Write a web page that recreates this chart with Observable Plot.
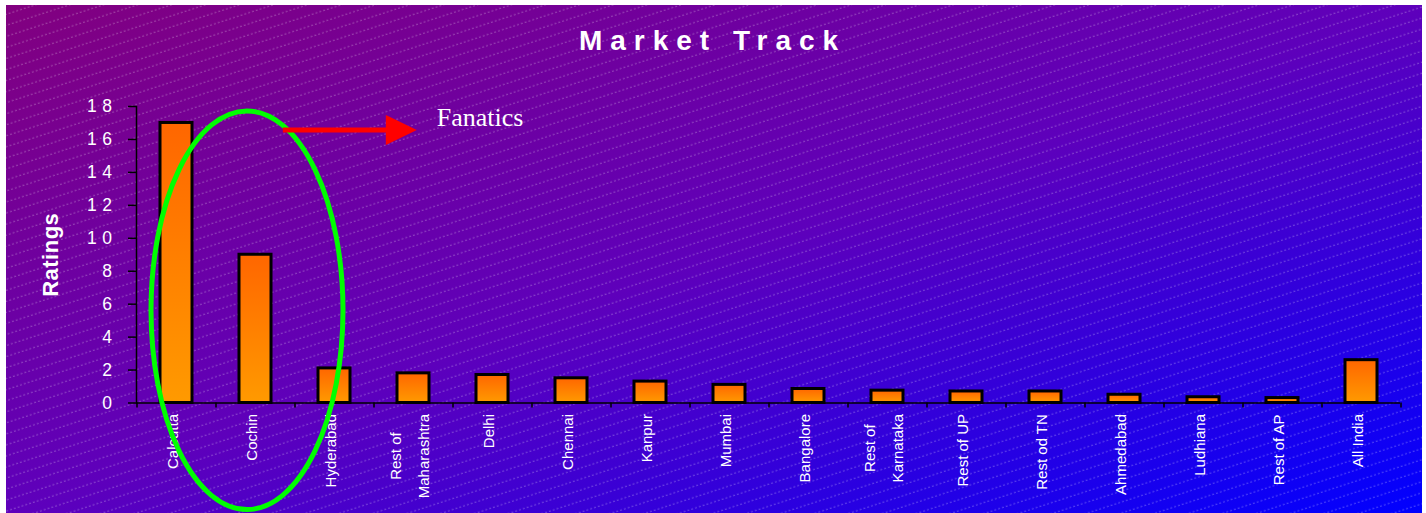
<!DOCTYPE html>
<html>
<head>
<meta charset="utf-8">
<script src="https://cdn.jsdelivr.net/npm/d3@7"></script>
<script src="https://cdn.jsdelivr.net/npm/@observablehq/plot@0.6"></script>
<style>
  html, body { margin: 0; padding: 0; background: #fff; overflow: hidden; }
  #chart svg { display: block; }
</style>
</head>
<body>
<div id="chart"></div>
<script>
// ---- data ----
const cities = ["Calcutta", "Cochin", "Hyderabad", "Rest of Maharashtra", "Delhi", "Chennai",
  "Kanpur", "Mumbai", "Bangalore", "Rest of Karnataka", "Rest of UP", "Rest od TN",
  "Ahmedabad", "Ludhiana", "Rest of AP", "All India"];
const cityLabels = ["Calcutta", "Cochin", "Hyderabad", "Rest of\nMaharashtra", "Delhi", "Chennai",
  "Kanpur", "Mumbai", "Bangalore", "Rest of\nKarnataka", "Rest of UP", "Rest od TN",
  "Ahmedabad", "Ludhiana", "Rest of AP", "All India"];
const ratings = [17, 9, 2.1, 1.8, 1.7, 1.5, 1.3, 1.1, 0.85, 0.75, 0.7, 0.7, 0.5, 0.35, 0.3, 2.6];
const yTicks = [0, 2, 4, 6, 8, 10, 12, 14, 16, 18];
const chartTitle = "Market Track";
const yTitle = "Ratings";
const calloutText = "Fanatics";
const ringedCity = "Cochin";

// ---- layout ----
const W = 1426, H = 513;
const margin = {top: 106, right: 26, bottom: 110.5, left: 136};
const yMax = 18;
const pxPerUnit = (H - margin.top - margin.bottom) / yMax;
const step = (W - margin.left - margin.right) / cities.length;
const sans = "'Liberation Sans', Arial, Helvetica, sans-serif";
const labelSize = 15;

// measure category labels so each (possibly two-line) label block hangs below the axis
const measureCtx = document.createElement("canvas").getContext("2d");
measureCtx.font = `${labelSize}px ${sans}`;
const rows = cities.map((city, i) => {
  const longest = d3.max(cityLabels[i].split("\n"), s => measureCtx.measureText(s).width);
  return {city, label: cityLabels[i], rating: ratings[i], labelY: -(11 + longest / 2) / pxPerUnit};
});

// gradient backdrop with fine dashed diagonal hatching, plus shared gradients
function backdrop(index, scales, values, dims) {
  const g = d3.create("svg:g");
  const defs = g.append("defs");
  const bg = defs.append("linearGradient").attr("id", "bgFill")
    .attr("x1", 0).attr("y1", 0).attr("x2", 1).attr("y2", 1);
  bg.append("stop").attr("offset", 0).attr("stop-color", "#82007f");
  bg.append("stop").attr("offset", 0.5).attr("stop-color", "#5e00bb");
  bg.append("stop").attr("offset", 1).attr("stop-color", "#0000ff");
  const bar = defs.append("linearGradient").attr("id", "barFill")
    .attr("x1", 0).attr("y1", 0).attr("x2", 0).attr("y2", 1);
  bar.append("stop").attr("offset", 0).attr("stop-color", "#ff6600");
  bar.append("stop").attr("offset", 1).attr("stop-color", "#ff9a00");
  const hatch = defs.append("pattern").attr("id", "hatch")
    .attr("patternUnits", "userSpaceOnUse").attr("width", 12).attr("height", 10.5)
    .attr("patternTransform", "rotate(-18)");
  hatch.append("line").attr("x1", 0).attr("x2", 12).attr("y1", 5).attr("y2", 5)
    .attr("stroke", "#fff").attr("stroke-opacity", 0.3).attr("stroke-width", 1)
    .attr("stroke-dasharray", "2 2");
  g.append("rect").attr("x", 6).attr("y", 5)
    .attr("width", dims.width - 10).attr("height", dims.height - 5).attr("fill", "url(#bgFill)");
  g.append("rect").attr("x", 6).attr("y", 5)
    .attr("width", dims.width - 10).attr("height", dims.height - 5).attr("fill", "url(#hatch)");
  return g.node();
}

// green ring around the leading markets, with a red arrow to the callout
function callout(index, {x, y}) {
  const g = d3.create("svg:g");
  const cx = x(ringedCity) + x.bandwidth() / 2 - 8;
  const cy = y(5.6);
  const ry = y(0) - y(12.1);
  const rx = step * 1.215;
  g.append("ellipse").attr("cx", cx).attr("cy", cy).attr("rx", rx).attr("ry", ry)
    .attr("fill", "none").attr("stroke", "#00ff00").attr("stroke-width", 5);
  const ay = y(16.55);
  const t = (ay - cy) / ry;
  const ax = cx + rx * Math.sqrt(1 - t * t) - 5;
  const headBase = ax + 103, tip = headBase + 31;
  g.append("line").attr("x1", ax).attr("x2", headBase + 2).attr("y1", ay).attr("y2", ay)
    .attr("stroke", "#ff0000").attr("stroke-width", 5);
  g.append("path").attr("d", `M${headBase},${ay - 15}L${tip},${ay}L${headBase},${ay + 15}Z`)
    .attr("fill", "#ff0000");
  g.append("text").attr("x", tip + 20).attr("y", ay - 4.3).attr("text-anchor", "start")
    .attr("fill", "#fff").attr("font-family", "'Liberation Serif', 'Times New Roman', serif")
    .attr("font-size", 26).text(calloutText);
  return g.node();
}

const chart = Plot.plot({
  width: W,
  height: H,
  marginTop: margin.top,
  marginRight: margin.right,
  marginBottom: margin.bottom,
  marginLeft: margin.left,
  style: {fontFamily: sans, background: "transparent", overflow: "visible"},
  x: {domain: cities, paddingInner: 0.6, paddingOuter: 0.3, axis: null},
  y: {domain: [0, yMax], axis: null},
  marks: [
    backdrop,
    Plot.barY(rows, {x: "city", y: "rating", fill: "url(#barFill)", stroke: "#000", strokeWidth: 3}),
    Plot.axisY({ticks: yTicks, tickSize: 8, tickPadding: 11, stroke: "#000", strokeWidth: 1.5,
      fill: "#fff", fontSize: 17.5, tickFormat: d => String(d), label: null}),
    Plot.frame({anchor: "left", stroke: "#000", strokeWidth: 1.5}),
    Plot.ruleY([0], {stroke: "#000", strokeWidth: 1.5}),
    // category boundary ticks below the axis
    Plot.ruleX(cities, {x: d => d, dx: -step / 2, y1: 0, y2: -5 / pxPerUnit, stroke: "#000", strokeWidth: 1.5}),
    Plot.ruleX(cities.slice(-1), {x: d => d, dx: step / 2, y1: 0, y2: -5 / pxPerUnit, stroke: "#000", strokeWidth: 1.5}),
    Plot.text(rows, {x: "city", y: "labelY", text: "label", rotate: -90, textAnchor: "middle", dx: -7,
      lineAnchor: "middle", lineHeight: 28 / labelSize, fontSize: labelSize, fill: "#fff"}),
    Plot.text([yTitle], {frameAnchor: "left", dx: 50 - margin.left, rotate: -90, textAnchor: "middle",
      lineAnchor: "middle", fontSize: 22, fontWeight: "bold", fill: "#fff"}),
    Plot.text([chartTitle], {frameAnchor: "top", dx: W / 2 - (margin.left + (W - margin.left - margin.right) / 2) - 5,
      dy: 49 - margin.top, textAnchor: "middle", lineAnchor: "bottom", fontSize: 28, fontWeight: "bold", fill: "#fff"}),
    callout
  ]
});

// spaced lettering for the title and the value axis
d3.select(chart).selectAll('[aria-label="y-axis tick label"]').attr("letter-spacing", 5.5);
d3.select(chart).selectAll("text").filter(function () { return this.textContent === chartTitle; })
  .attr("letter-spacing", 8).attr("dx", 4);
d3.select(chart).selectAll("text").filter(function () { return this.textContent === yTitle; })
  .attr("letter-spacing", 0.5);

document.getElementById("chart").appendChild(chart);
</script>
</body>
</html>
